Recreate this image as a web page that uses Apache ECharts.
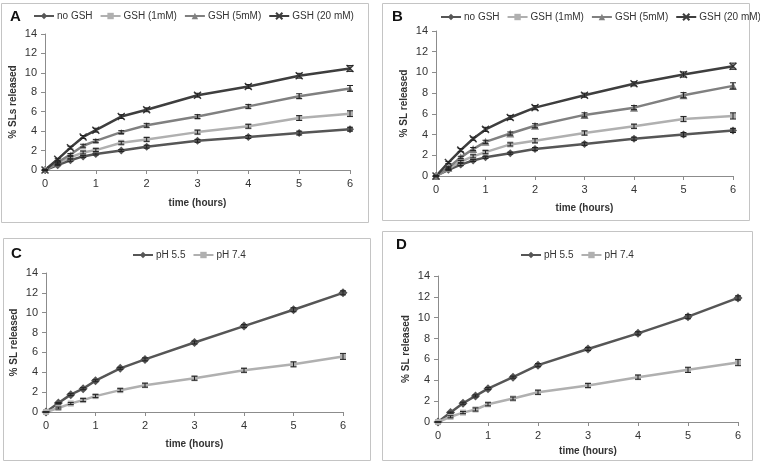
<!DOCTYPE html>
<html><head><meta charset="utf-8">
<script src="https://cdn.jsdelivr.net/npm/echarts@6/dist/echarts.min.js"></script>
<style>html,body{margin:0;padding:0;background:#fff}#c{width:760px;height:461px}</style>
</head><body><div id="c"></div>
<script>
var times = [0,0.25,0.5,0.75,1,1.5,2,3,4,5,6];
var xTicks = [0,1,2,3,4,5,6];
var yTicks = [0,2,4,6,8,10,12,14];

var A_noGSH = [0,0.5,1.0,1.4,1.65,2.0,2.4,3.0,3.4,3.8,4.2];
var A_gsh1  = [0,0.7,1.3,1.8,2.05,2.8,3.15,3.9,4.5,5.35,5.8];
var A_gsh5  = [0,0.8,1.6,2.5,3.0,3.9,4.6,5.5,6.55,7.6,8.4];
var A_gsh20 = [0,1.1,2.3,3.4,4.1,5.5,6.2,7.7,8.6,9.7,10.45];

var B_noGSH = [0,0.6,1.1,1.5,1.8,2.2,2.6,3.1,3.6,4.0,4.4];
var B_gsh1  = [0,0.7,1.4,1.9,2.3,3.05,3.4,4.15,4.8,5.5,5.8];
var B_gsh5  = [0,0.8,1.8,2.6,3.3,4.1,4.85,5.9,6.6,7.8,8.7];
var B_gsh20 = [0,1.3,2.5,3.6,4.5,5.65,6.6,7.8,8.9,9.8,10.6];

var C_ph55 = [0,0.9,1.75,2.35,3.15,4.4,5.3,7.0,8.65,10.3,12.0];
var C_ph74 = [0,0.4,0.85,1.2,1.6,2.2,2.7,3.4,4.2,4.8,5.6];
var D_ph55 = [0,0.9,1.8,2.5,3.2,4.3,5.45,7.0,8.5,10.1,11.9];
var D_ph74 = [0,0.5,0.9,1.2,1.7,2.25,2.85,3.5,4.3,5.0,5.7];

var errSmall = [0,0.05,0.1,0.1,0.1,0.1,0.15,0.15,0.15,0.2,0.2];
var errMid   = [0,0.1,0.1,0.15,0.15,0.15,0.2,0.2,0.2,0.25,0.3];
var errBig   = [0,0.1,0.15,0.15,0.2,0.2,0.2,0.2,0.2,0.25,0.3];

var gshNames = ['no GSH','GSH (1mM)','GSH (5mM)','GSH (20 mM)'];
var phNames = ['pH 5.5','pH 7.4'];
var panelLetters = ['A','B','C','D'];
var yNames = ['% SLs released','% SL released','% SL released','% SL released'];
var xName = 'time (hours)';

var FONT = 'Liberation Sans';
var colNo = '#565656', col1 = '#b0b0b0', col5 = '#808080', col20 = '#3e3e3e';
var XPATH = 'path://M0,0L10,10M10,0L0,10';

var grids = [
  {left:45, right:410, top:34, bottom:291},
  {left:436, right:27, top:31, bottom:285},
  {left:46, right:417, top:273, bottom:49},
  {left:438, right:22, top:276, bottom:39}
];
var xGaps = [28,27,27,24];

function pairs(vals){ return times.map(function(t,i){return [t, vals[i]];}); }

var series = [];
function addLine(gi, name, vals, color, symbol, size, errs, width){
  var isX = symbol === XPATH;
  series.push({
    type:'line', name:name, xAxisIndex:gi, yAxisIndex:gi, data:pairs(vals),
    symbol:symbol, symbolSize:size, showSymbol:true,
    lineStyle:{color:color, width:width||2.5},
    itemStyle: isX ? {color:'rgba(0,0,0,0)', borderColor:color, borderWidth:1.5} : {color:color, borderWidth:0},
    z:3, animation:false
  });
  series.push({
    type:'custom', name:name+' err', xAxisIndex:gi, yAxisIndex:gi,
    data: times.map(function(t,i){return [t, vals[i], errs[i]];}),
    renderItem:function(params, api){
      var x = api.value(0), y = api.value(1), e = api.value(2);
      var hi = api.coord([x, y+e]), lo = api.coord([x, y-e]);
      var st = {stroke:'#222', lineWidth:1};
      return {type:'group', children:[
        {type:'line', shape:{x1:hi[0],y1:hi[1],x2:lo[0],y2:lo[1]}, style:st},
        {type:'line', shape:{x1:hi[0]-3,y1:hi[1],x2:hi[0]+3,y2:hi[1]}, style:st},
        {type:'line', shape:{x1:lo[0]-3,y1:lo[1],x2:lo[0]+3,y2:lo[1]}, style:st}
      ]};
    },
    z:4, animation:false, silent:true, tooltip:{show:false}
  });
}

addLine(0, gshNames[0], A_noGSH, colNo, 'diamond', 8, errSmall);
addLine(0, gshNames[1], A_gsh1, col1, 'rect', 6, errMid);
addLine(0, gshNames[2], A_gsh5, col5, 'triangle', 6, errMid);
addLine(0, gshNames[3], A_gsh20, col20, XPATH, 7, errBig);

addLine(1, gshNames[0], B_noGSH, colNo, 'diamond', 8, errSmall);
addLine(1, gshNames[1], B_gsh1, col1, 'rect', 6, errMid);
addLine(1, gshNames[2], B_gsh5, col5, 'triangle', 8, errMid);
addLine(1, gshNames[3], B_gsh20, col20, XPATH, 7, errBig);

addLine(2, phNames[0], C_ph55, colNo, 'diamond', 9, errSmall);
addLine(2, phNames[1], C_ph74, col1, 'rect', 6, errMid);
addLine(3, phNames[0], D_ph55, colNo, 'diamond', 9, errSmall);
addLine(3, phNames[1], D_ph74, col1, 'rect', 6, errMid);

var axisLine = {lineStyle:{color:'#8c8c8c', width:1}};
var xAxes = grids.map(function(g,i){
  return {type:'value', gridIndex:i, min:0, max:6, interval:1,
    axisLine:axisLine, axisTick:{show:true, length:4, lineStyle:{color:'#8c8c8c'}},
    splitLine:{show:false},
    axisLabel:{color:'#333', fontSize:11, fontFamily:FONT, margin:8,
      formatter:function(v){ return xTicks.indexOf(v)>=0 ? String(v) : ''; }},
    name:xName, nameLocation:'middle', nameGap:xGaps[i],
    nameTextStyle:{color:'#333', fontSize:10, fontWeight:'bold', fontFamily:FONT}};
});
var yAxes = grids.map(function(g,i){
  return {type:'value', gridIndex:i, min:0, max:14, interval:2,
    axisLine:{show:true, lineStyle:{color:'#8c8c8c', width:1}},
    axisTick:{show:true, length:4, lineStyle:{color:'#8c8c8c'}},
    splitLine:{show:false},
    axisLabel:{color:'#333', fontSize:11, fontFamily:FONT, margin:8,
      formatter:function(v){ return yTicks.indexOf(v)>=0 ? String(v) : ''; }},
    name:yNames[i], nameLocation:'middle', nameGap:27, nameRotate:90,
    nameTextStyle:{color:'#333', fontSize:10, fontWeight:'bold', fontFamily:FONT}};
});

var legendBase = {itemWidth:20, itemHeight:8, itemGap:7, width:360, padding:0,
  textStyle:{color:'#333', fontSize:10, fontFamily:FONT, padding:[0,0,0,-2]}, selectedMode:false};
var legends = [
  Object.assign({}, legendBase, {data:gshNames, left:33, top:11}),
  Object.assign({}, legendBase, {data:gshNames, left:440, top:12}),
  Object.assign({}, legendBase, {data:phNames, left:132, top:250}),
  Object.assign({}, legendBase, {data:phNames, left:520, top:250})
];

var titles = [
  {left:5, top:4},
  {left:387, top:4},
  {left:6, top:241},
  {left:391, top:232}
].map(function(t, i){
  t.text = panelLetters[i];
  t.textStyle = {fontSize:15, fontWeight:'bold', color:'#111', fontFamily:FONT};
  return t;
});

var boxes = [
  {x:1,y:3,w:367,h:219},{x:382,y:3,w:367,h:217},
  {x:3,y:238,w:367,h:222},{x:382,y:231,w:370,h:229}
];

var chart = echarts.init(document.getElementById('c'), null, {renderer:'canvas'});
chart.setOption({
  backgroundColor:'#fff',
  animation:false,
  title:titles,
  legend:legends,
  grid:grids,
  xAxis:xAxes,
  yAxis:yAxes,
  series:series,
  graphic:boxes.map(function(b){
    return {type:'rect', shape:{x:b.x+0.5,y:b.y+0.5,width:b.w,height:b.h},
      style:{fill:'none', stroke:'#c4c4c4', lineWidth:1}, silent:true, z:-1};
  })
});
</script></body></html>
